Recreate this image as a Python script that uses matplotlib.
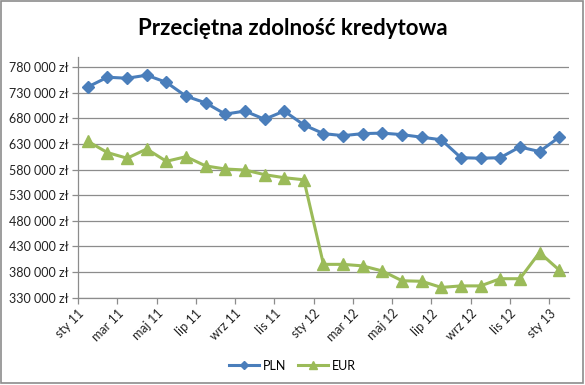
import matplotlib
matplotlib.use('Agg')
import matplotlib.pyplot as plt
from matplotlib.patches import Rectangle
import numpy as np

# Data (monthly, sty 11 .. sty 13)
months = ['sty 11', 'lut 11', 'mar 11', 'kwi 11', 'maj 11', 'cze 11', 'lip 11', 'sie 11',
          'wrz 11', 'paź 11', 'lis 11', 'gru 11', 'sty 12', 'lut 12', 'mar 12', 'kwi 12',
          'maj 12', 'cze 12', 'lip 12', 'sie 12', 'wrz 12', 'paź 12', 'lis 12', 'gru 12',
          'sty 13']
pln = [741000, 760000, 758000, 764000, 750000, 723000, 710000, 688000, 694000, 678000,
       694000, 667000, 650000, 646000, 650000, 651000, 648000, 643000, 638000, 603000,
       602000, 603000, 624000, 615000, 643000]
eur = [635000, 613000, 602000, 620000, 596000, 605000, 587000, 581000, 579000, 570000,
       564000, 560000, 395000, 395000, 392000, 382000, 363000, 362000, 350000, 353000,
       353000, 367000, 367000, 418000, 384000]
y_ticks = [330000, 380000, 430000, 480000, 530000, 580000, 630000, 680000, 730000, 780000]

blue = '#4A7EBB'
green = '#9BBB59'
grid_col = '#8C8C8C'

plt.rcParams['font.family'] = ['Lato', 'DejaVu Sans']

fig = plt.figure(figsize=(5.85, 3.85), dpi=100)
ax = fig.add_axes([0.1333, 0.2268, 0.8393, 0.6259])

x = np.arange(len(months)) + 0.5
ax.plot(x, pln, color=blue, linewidth=2.2, marker='D', markersize=6,
        markeredgecolor=blue, label='PLN', clip_on=False, zorder=3)
ax.plot(x, eur, color=green, linewidth=2.2, marker='^', markersize=8,
        markeredgecolor=green, label='EUR', clip_on=False, zorder=3)

ax.set_xlim(0, len(months))
ax.set_ylim(330000, 800000)

ax.set_yticks(y_ticks)
ax.set_yticklabels([f'{v // 1000} 000 zł' for v in y_ticks], fontsize=9, color='#222222')
ax.set_xticks(np.arange(0, len(months), 2))
ax.set_xticklabels(months[::2], rotation=45, ha='right', va='top',
                   rotation_mode='anchor', fontsize=9, color='#222222')

ax.grid(axis='y', color=grid_col, linewidth=0.9)
ax.set_axisbelow(True)
for side in ['top', 'right']:
    ax.spines[side].set_visible(False)
for side in ['left', 'bottom']:
    ax.spines[side].set_color(grid_col)
    ax.spines[side].set_linewidth(0.9)
ax.tick_params(axis='both', direction='out', length=4, color=grid_col, width=0.9, pad=3)

fig.text(0.5, 0.927, 'Przeciętna zdolność kredytowa', ha='center', va='center',
         fontsize=16, fontweight='bold', color='black')

fig.legend(loc='center', bbox_to_anchor=(0.5, 0.05), ncol=2, frameon=False,
           fontsize=9, handlelength=2.4, columnspacing=1.0, handletextpad=0.3,
           markerscale=0.7)

fig.patches.append(Rectangle((0.002, 0.004), 0.994, 0.993, transform=fig.transFigure,
                             fill=False, edgecolor='#8C8C8C', linewidth=1.2))

plt.savefig('out.png', dpi=100)
